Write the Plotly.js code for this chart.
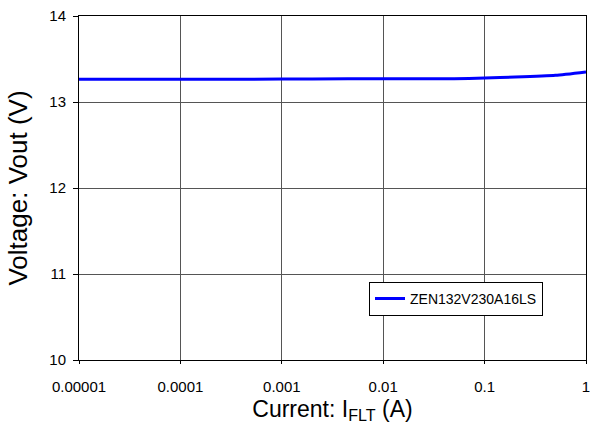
<!DOCTYPE html>
<html><head><meta charset="utf-8">
<script src="https://cdn.plot.ly/plotly-3.0.1.min.js"></script>
<style>body{margin:0;padding:0;background:#fff}#c{width:590px;height:434px}</style>
</head><body><div id="c"></div>
<script>
const seriesName = "ZEN132V230A16LS";
const currentA = [0.00001, 0.0001, 0.0005, 0.002, 0.01, 0.05, 0.1, 0.2, 0.5, 1];
const voltageV = [13.265, 13.265, 13.265, 13.268, 13.27, 13.27, 13.28, 13.29, 13.31, 13.35];
const xTickVals = [0.00001, 0.0001, 0.001, 0.01, 0.1, 1];
const xTickText = ["0.00001", "0.0001", "0.001", "0.01", "0.1", "1"];
const yTickVals = [10, 11, 12, 13, 14];

const font = "Liberation Sans, Arial, sans-serif";
Plotly.newPlot("c", [{
  x: currentA, y: voltageV, type: "scatter", mode: "lines", name: seriesName,
  line: {color: "#0000FF", width: 3, shape: "spline", smoothing: 0.5}
}], {
  width: 590, height: 434,
  margin: {l: 79, r: 4, t: 16, b: 74},
  paper_bgcolor: "#fff", plot_bgcolor: "#fff",
  font: {family: font, color: "#000"},
  showlegend: true,
  legend: {x: 0.572, y: 0.227, xanchor: "left", yanchor: "top", bgcolor: "#fff",
    bordercolor: "#000", borderwidth: 1, font: {size: 14, family: font}, itemwidth: 30,
    tracegroupgap: 0},
  xaxis: {type: "log", range: [-5, 0], tickvals: xTickVals, ticktext: xTickText,
    showgrid: true, gridcolor: "#555", gridwidth: 1, zeroline: false,
    showline: true, linecolor: "#000", linewidth: 1, mirror: true,
    ticks: "outside", ticklen: 3, tickcolor: "#000", tickfont: {size: 15, family: font},
    ticklabelstandoff: 10, ticklabeloverflow: "allow",
    title: {text: "Current: I<sub>FLT</sub> (A)", font: {size: 23, family: font}, standoff: 6}},
  yaxis: {range: [10, 14], tickvals: yTickVals, showgrid: true, gridcolor: "#555", gridwidth: 1,
    zeroline: false, showline: true, linecolor: "#000", linewidth: 1, mirror: true,
    ticks: "outside", ticklen: 5, tickcolor: "#000", tickfont: {size: 15, family: font},
    ticklabelstandoff: 4,
    title: {text: "Voltage: Vout (V)", font: {size: 26, family: font}, standoff: 14}}
}, {displayModeBar: false, staticPlot: true});
</script></body></html>
